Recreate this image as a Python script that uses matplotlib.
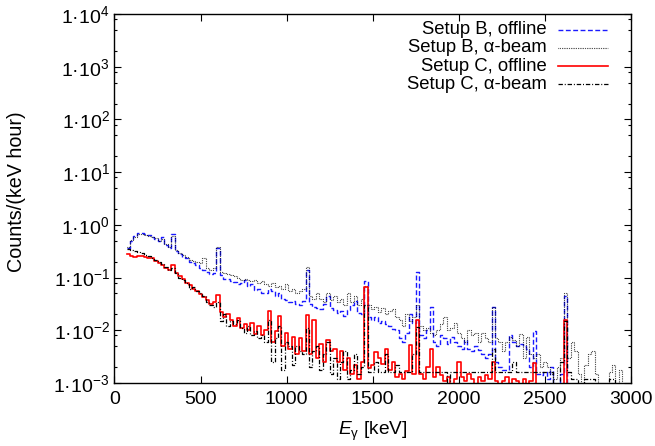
import matplotlib
matplotlib.use('Agg')
import matplotlib.pyplot as plt
import numpy as np
from matplotlib.ticker import LogLocator, NullFormatter, FixedLocator

plt.rcParams['font.family'] = ['Liberation Sans', 'DejaVu Sans']
plt.rcParams['mathtext.fontset'] = 'custom'
plt.rcParams['mathtext.rm'] = 'Liberation Sans'
plt.rcParams['mathtext.it'] = 'Liberation Sans:italic'

# energy bins: 20 keV wide, first edge 70 keV (bin centres 80 ... 2980 keV)
bin_width = 20
first_edge = 70

# counts/(keV hour) per bin (1e-4 = below the plotted range)
setup_b_offline = [
    0.36, 0.50, 0.62, 0.70, 0.69,        # 80
    0.66, 0.64, 0.60, 0.55, 0.50,        # 180
    0.58, 0.42, 0.36, 0.68, 0.32,        # 280
    0.28, 0.25, 0.235, 0.20, 0.185,      # 380
    0.17, 0.155, 0.14, 0.13, 0.115,      # 480
    0.12, 0.36, 0.11, 0.095, 0.092,      # 580
    0.085, 0.082, 0.075, 0.078, 0.09,    # 680
    0.068, 0.074, 0.058, 0.062, 0.052,   # 780
    0.05, 0.062, 0.056, 0.045, 0.05,     # 880
    0.04, 0.038, 0.034, 0.036, 0.031,    # 980
    0.030, 0.036, 0.14, 0.032, 0.028,    # 1080
    0.027, 0.025, 0.031, 0.045, 0.026,   # 1180
    0.024, 0.021, 0.023, 0.019, 0.024,   # 1280
    0.030, 0.036, 0.021, 0.020, 0.085,   # 1380
    0.018, 0.016, 0.018, 0.014, 0.015,   # 1480
    0.013, 0.012, 0.0105, 0.010, 0.007,  # 1580
    0.006, 0.009, 0.020, 0.014, 0.13,    # 1680
    0.008, 0.007, 0.010, 0.028, 0.006,   # 1780
    0.005, 0.008, 0.007, 0.0055, 0.0075, # 1880
    0.006, 0.005, 0.0045, 0.0065, 0.0045,  # 1980
    0.004, 0.005, 0.0042, 0.0035, 0.003,   # 2080
    0.0035, 0.028, 0.0025, 0.002, 0.0018,  # 2180
    0.0018, 0.008, 0.006, 0.005, 0.0055,   # 2280
    0.005, 0.0045, 0.002, 0.0095, 0.0015,  # 2380
    0.0014, 0.0016, 0.0012, 0.002, 1e-4,   # 2480
    1e-4, 0.0015, 0.044, 1e-4, 1e-4,       # 2580
    1e-4, 1e-4, 1e-4, 1e-4, 1e-4,          # 2680
    1e-4, 1e-4, 1e-4, 1e-4, 1e-4,          # 2780
    1e-4, 1e-4, 1e-4, 1e-4, 1e-4,          # 2880
    1e-4,                                  # 2980
]

setup_b_alpha = [
    0.38, 0.52, 0.60, 0.66, 0.66,        # 80
    0.64, 0.62, 0.58, 0.56, 0.50,        # 180
    0.55, 0.44, 0.38, 0.62, 0.33,        # 280
    0.29, 0.27, 0.25, 0.22, 0.21,        # 380
    0.20, 0.19, 0.23, 0.15, 0.14,        # 480
    0.15, 0.38, 0.13, 0.12, 0.115,       # 580
    0.11, 0.105, 0.10, 0.09, 0.095,      # 680
    0.09, 0.085, 0.09, 0.08, 0.085,      # 780
    0.075, 0.07, 0.08, 0.065, 0.07,      # 880
    0.06, 0.075, 0.055, 0.06, 0.05,      # 980
    0.055, 0.06, 0.16, 0.045, 0.04,      # 1080
    0.05, 0.04, 0.035, 0.05, 0.038,      # 1180
    0.045, 0.035, 0.04, 0.03, 0.05,      # 1280
    0.035, 0.045, 0.03, 0.04, 0.07,      # 1380
    0.03, 0.025, 0.028, 0.022, 0.027,    # 1480
    0.02, 0.023, 0.025, 0.018, 0.016,    # 1580
    0.012, 0.02, 0.015, 0.018, 0.03,     # 1680
    0.012, 0.01, 0.011, 0.009, 0.008,    # 1780
    0.010, 0.013, 0.018, 0.01, 0.011,    # 1880
    0.014, 0.009, 0.007, 0.006, 0.010,   # 1980
    0.008, 0.009, 0.006, 0.009, 0.007,   # 2080
    0.006, 0.028, 0.007, 0.006, 0.004,   # 2180
    0.006, 0.0075, 0.0065, 0.005, 0.0085,  # 2280
    0.003, 0.0075, 0.0035, 0.003, 0.0035,  # 2380
    0.002, 0.0025, 0.002, 0.0015, 0.0012,  # 2480
    0.002, 0.003, 0.05, 0.003, 0.006,      # 2580
    0.004, 0.0015, 1e-4, 0.0022, 0.0035,   # 2680
    0.004, 0.0015, 1e-4, 1e-4, 1e-4,       # 2780
    0.0016, 0.0022, 1e-4, 0.0018, 1e-4,    # 2880
    1e-4,                                  # 2980
]

setup_c_offline = [
    0.28, 0.26, 0.25, 0.26, 0.26,        # 80
    0.25, 0.24, 0.23, 0.21, 0.19,        # 180
    0.17, 0.15, 0.14, 0.17, 0.12,        # 280
    0.105, 0.095, 0.08, 0.072, 0.062,    # 380
    0.055, 0.048, 0.042, 0.038, 0.032,   # 480
    0.035, 0.047, 0.022, 0.018, 0.020,   # 580
    0.016, 0.012, 0.017, 0.011, 0.013,   # 680
    0.010, 0.014, 0.0085, 0.012, 0.008,  # 780
    0.010, 0.023, 0.006, 0.0095, 0.019,  # 880
    0.005, 0.009, 0.0045, 0.0075, 0.0035,  # 980
    0.007, 0.004, 0.0195, 0.0035, 0.016,   # 1080
    0.003, 0.0055, 0.0025, 0.0065, 0.004,  # 1180
    0.0045, 0.0025, 0.004, 0.0018, 0.003,  # 1280
    0.0015, 0.0022, 0.0012, 0.0025, 0.067, # 1380
    0.0019, 0.0022, 0.0039, 0.003, 0.0023, # 1480
    0.0045, 0.0018, 0.0025, 0.0013, 0.0015,  # 1580
    0.0012, 0.0017, 0.0052, 0.0015, 0.016,   # 1680
    0.0015, 0.0012, 0.002, 0.0045, 0.0013,   # 1780
    0.002, 0.0014, 0.0011, 0.0013, 1e-4,     # 1880
    0.0012, 0.0025, 0.0013, 0.0011, 0.0015,  # 1980
    0.0012, 1e-4, 0.0013, 0.0011, 0.0014,    # 2080
    0.0012, 0.0025, 0.0011, 1e-4, 0.0011,    # 2180
    0.0013, 1e-4, 0.0012, 0.0011, 1e-4,      # 2280
    0.0012, 1e-4, 0.0011, 0.0024, 1e-4,      # 2380
    1e-4, 1e-4, 1e-4, 1e-4, 1e-4,            # 2480
    1e-4, 1e-4, 0.016, 1e-4, 1e-4,           # 2580
    1e-4, 1e-4, 1e-4, 1e-4, 1e-4,            # 2680
    1e-4, 1e-4, 1e-4, 1e-4, 1e-4,            # 2780
    1e-4, 1e-4, 1e-4, 1e-4, 1e-4,            # 2880
    1e-4,                                    # 2980
]

setup_c_alpha = [
    0.35, 0.34, 0.32, 0.30, 0.29,        # 80
    0.27, 0.26, 0.24, 0.22, 0.20,        # 180
    0.18, 0.16, 0.14, 0.15, 0.12,        # 280
    0.10, 0.09, 0.08, 0.06, 0.065,       # 380
    0.055, 0.05, 0.045, 0.035, 0.03,     # 480
    0.028, 0.035, 0.015, 0.02, 0.012,    # 580
    0.015, 0.013, 0.016, 0.011, 0.009,   # 680
    0.012, 0.008, 0.0095, 0.007, 0.008,  # 780
    0.006, 0.016, 0.0025, 0.007, 0.012,  # 880
    0.0018, 0.006, 0.005, 0.0022, 0.005, # 980
    0.004, 0.0035, 0.011, 0.002, 0.004,  # 1080
    0.005, 0.0018, 0.0035, 0.006, 0.0015,  # 1180
    0.003, 0.0012, 0.0025, 0.004, 0.0012,  # 1280
    0.0018, 0.0035, 0.0015, 0.002, 0.03,   # 1380
    0.0016, 0.0016, 0.0025, 0.0016, 0.0016,  # 1480
    0.0035, 0.0016, 0.0016, 0.0022, 0.0016,  # 1580
    0.0016, 0.0016, 0.0016, 0.0035, 0.0115,  # 1680
    0.0016, 0.0016, 0.0016, 0.0016, 0.0016,  # 1780
    0.0016, 0.0016, 0.0016, 1e-4, 0.0016,    # 1880
    0.0016, 0.0016, 0.0016, 0.0016, 0.0016,  # 1980
    0.0016, 0.0016, 0.0016, 0.0016, 0.0016,  # 2080
    0.0016, 0.0045, 0.0016, 0.0016, 0.0016,  # 2180
    0.0016, 0.0016, 0.0025, 0.0016, 0.0016,  # 2280
    0.0016, 0.0016, 0.0016, 0.0016, 0.0016,  # 2380
    0.0016, 0.0016, 0.0016, 0.0016, 1e-4,    # 2480
    1e-4, 0.0025, 0.015, 0.0016, 0.0012,     # 2580
    0.0012, 1e-4, 1e-4, 0.0012, 0.0012,      # 2680
    0.0012, 1e-4, 1e-4, 1e-4, 1e-4,          # 2780
    0.0012, 0.0012, 1e-4, 1e-4, 1e-4,        # 2880
    1e-4,                                    # 2980
]

labels = ['Setup B, offline', 'Setup B, α-beam', 'Setup C, offline', 'Setup C, α-beam']
colors = ['#1a1aff', 'black', '#ff0000', 'black']
styles = [(0, (3.5, 1.8)), (0, (0.6, 1.0)), '-', (0, (3.5, 1.5, 0.8, 1.5))]
widths = [1.0, 0.8, 1.2, 0.9]

fig = plt.figure(figsize=(6.55, 4.46), dpi=100)
ax = fig.add_axes([0.1748, 0.1413, 0.7885, 0.8273])

series = [setup_b_offline, setup_b_alpha, setup_c_offline, setup_c_alpha]
for vals, c, ls, lw in zip(series, colors, styles, widths):
    vals = np.array(vals)
    edges = first_edge + bin_width * np.arange(len(vals) + 1)
    ax.step(edges, np.append(vals, vals[-1]), where='post', color=c,
            linestyle=ls, linewidth=lw)

ax.set_yscale('log')
ax.set_xlim(0, 3000)
ax.set_ylim(1e-3, 1e4)

ax.xaxis.set_major_locator(FixedLocator([0, 500, 1000, 1500, 2000, 2500, 3000]))
decades = list(range(-3, 5))
ax.yaxis.set_major_locator(FixedLocator([10.0 ** d for d in decades]))
ax.set_yticklabels(['1·10$^{%d}$' % d for d in decades])
ax.yaxis.set_minor_locator(LogLocator(base=10, subs=(2.0, 5.0, 8.0)))
ax.yaxis.set_minor_formatter(NullFormatter())

ax.tick_params(which='both', direction='in', top=True, right=True, labelsize=14)
ax.tick_params(which='major', length=5, width=0.8)
ax.tick_params(which='minor', length=2.5, width=0.8)
ax.tick_params(axis='x', pad=6)
for s in ax.spines.values():
    s.set_linewidth(1.0)

ax.set_xlabel(r'$E_{\mathrm{\gamma}}$ [keV]', fontsize=13.8, labelpad=8)
ax.set_ylabel('Counts/(keV hour)', fontsize=14.2)
ax.yaxis.set_label_coords(-0.171, 0.518)

# legend drawn gnuplot-style: right-aligned text, sample line to the right
rows = [0.957, 0.908, 0.859, 0.810]
for lab, c, ls, lw, yy in zip(labels, colors, styles, widths, rows):
    ax.text(0.837, yy, lab, transform=ax.transAxes, ha='right', va='center', fontsize=13.3)
    ax.plot([0.859, 0.955], [yy, yy], transform=ax.transAxes, color=c,
            linestyle=ls, linewidth=lw)

fig.savefig('out.png', dpi=100)
